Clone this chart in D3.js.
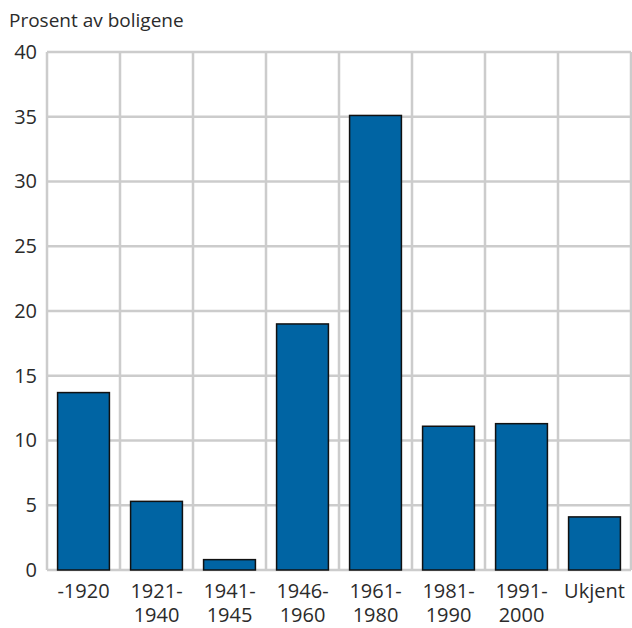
<!DOCTYPE html>
<html>
<head>
<meta charset="utf-8">
<script src="https://cdn.jsdelivr.net/npm/d3@7"></script>
<style>
  body { margin: 0; background: #fff; }
  text { font-family: "Open Sans", sans-serif; fill: #2b2b2b; }
</style>
</head>
<body>
<div id="chart"></div>
<script>
const categories = [["-1920"], ["1921-", "1940"], ["1941-", "1945"], ["1946-", "1960"],
    ["1961-", "1980"], ["1981-", "1990"], ["1991-", "2000"], ["Ukjent"]];
const values = [13.7, 5.3, 0.8, 19.0, 35.1, 11.1, 11.3, 4.1];
const yTicks = [0, 5, 10, 15, 20, 25, 30, 35, 40];
const yTitle = "Prosent av boligene";

const margin = {top: 52, right: 1, bottom: 58, left: 47},
    width = 632 - margin.left - margin.right,
    height = 628 - margin.top - margin.bottom;

const svg = d3.select("#chart")
    .append("svg")
    .attr("width", 632)
    .attr("height", 628);

const g = svg.append("g")
    .attr("transform", "translate(" + margin.left + "," + margin.top + ")");

const x = d3.scaleBand()
    .domain(categories.map((d, i) => i))
    .range([0, width])
    .paddingInner(0.29)
    .paddingOuter(0.145);

const y = d3.scaleLinear()
    .domain([0, 40])
    .range([height, 0]);

// vertical grid at band boundaries
const step = width / categories.length;
g.selectAll("vgrid")
    .data(d3.range(categories.length + 1))
    .join("line")
    .attr("x1", d => d * step)
    .attr("x2", d => d * step)
    .attr("y1", 0)
    .attr("y2", height)
    .attr("stroke", "#cccccc")
    .attr("stroke-width", 2.5);

// horizontal grid
g.selectAll("hgrid")
    .data(yTicks)
    .join("line")
    .attr("x1", 0)
    .attr("x2", width)
    .attr("y1", d => y(d))
    .attr("y2", d => y(d))
    .attr("stroke", "#cccccc")
    .attr("stroke-width", 2.5);

// y axis labels
g.append("g")
    .call(d3.axisLeft(y).tickValues(yTicks).tickSize(0).tickPadding(10))
    .call(a => a.select(".domain").remove())
    .selectAll("text")
    .style("font-size", "20px")
    .style("font-family", "'Open Sans', sans-serif")
    .attr("fill", "#2b2b2b");

// bars
g.selectAll("bars")
    .data(values)
    .join("rect")
    .attr("x", (d, i) => x(i))
    .attr("y", d => y(d))
    .attr("width", x.bandwidth())
    .attr("height", d => height - y(d))
    .attr("fill", "#0064a3")
    .attr("stroke", "#111")
    .attr("stroke-width", 1.5);

// x labels
const labels = g.selectAll("xlab")
    .data(categories)
    .join("text")
    .attr("x", (d, i) => x(i) + x.bandwidth() / 2)
    .attr("y", height + 28)
    .attr("text-anchor", "middle")
    .style("font-size", "20px");
labels.selectAll("tspan")
    .data(d => d)
    .join("tspan")
    .attr("x", function () { return this.parentNode.getAttribute("x"); })
    .attr("dy", (d, i) => i === 0 ? 0 : 24)
    .text(d => d);

svg.append("text")
    .attr("x", 9)
    .attr("y", 27)
    .style("font-size", "19px")
    .text(yTitle);
</script>
</body>
</html>
